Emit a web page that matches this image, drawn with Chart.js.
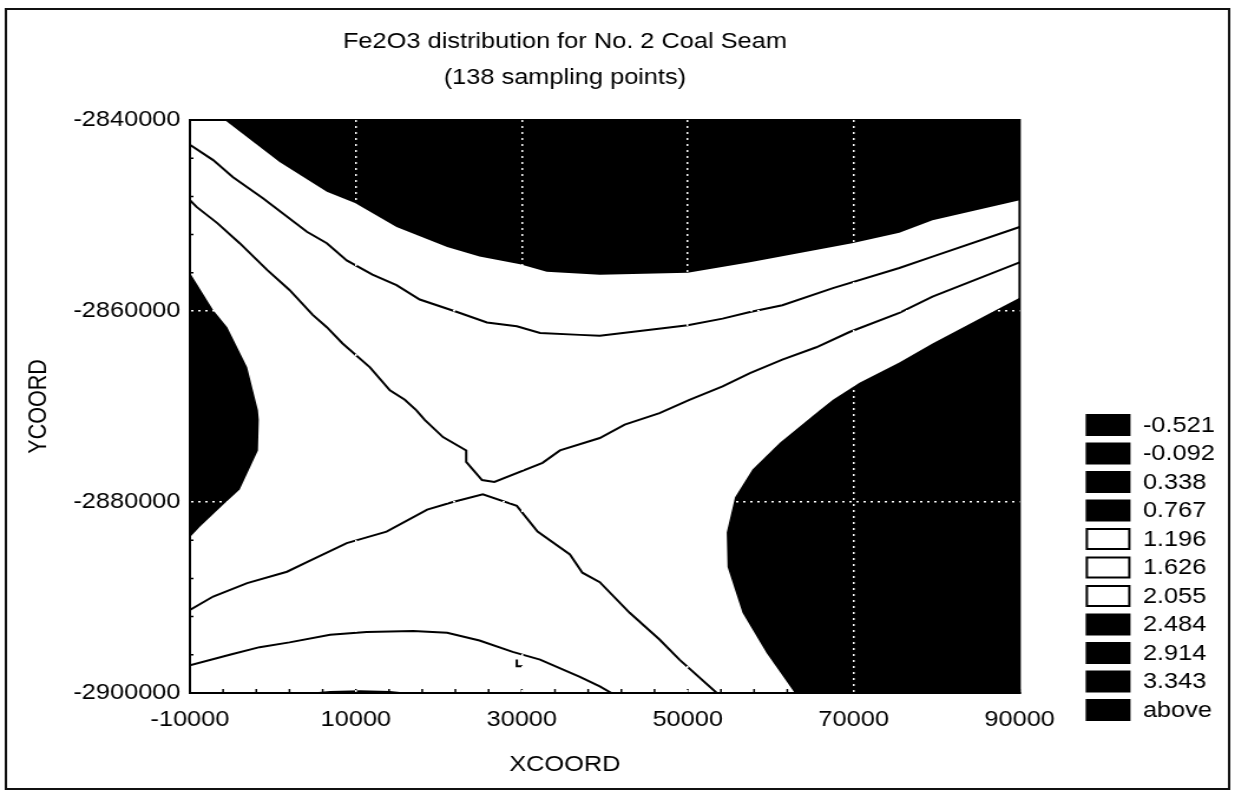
<!DOCTYPE html>
<html>
<head>
<meta charset="utf-8">
<title>Fe2O3 distribution for No. 2 Coal Seam</title>
<script src="https://cdn.jsdelivr.net/npm/chart.js@4.4.1/dist/chart.umd.min.js"></script>
<style>
  html, body { margin: 0; padding: 0; background: #fff; overflow: hidden; }
  #contourChart { display: block; }
</style>
</head>
<body>
<!-- the sheet is drawn 1047 wide and stretched sideways to 1235 -->
<canvas id="contourChart" width="1047" height="795" style="width:1235px;height:795px"></canvas>
<script>
// Axis ranges and labelled ticks
const xRange = [-10000, 90000];
const yRange = [-2900000, -2840000];
const xTickValues = [-10000, 10000, 30000, 50000, 70000, 90000];
const yTickValues = [-2900000, -2880000, -2860000, -2840000];

const titleLines = ["Fe2O3 distribution for No. 2 Coal Seam", "(138 sampling points)"];

// Contour levels shown in the key (white = the three middle classes)
const levelLabels = ["-0.521", "-0.092", "0.338", "0.767", "1.196", "1.626", "2.055", "2.484", "2.914", "3.343", "above"];
const levelFills = ["#000", "#000", "#000", "#000", "#fff", "#fff", "#fff", "#000", "#000", "#000", "#000"];

// Northern dark band, edge of the band (filled up to the top)
const northBandX = [-5800, 800, 6500, 9900, 14900, 21000, 24900, 29800, 33000, 39400, 50000, 57500, 69800, 75500, 79500, 90000];
const northBandY = [-2840000, -2844400, -2847500, -2848700, -2851200, -2853300, -2854300, -2855100, -2855900, -2856200, -2856000, -2854900, -2852900, -2851800, -2850500, -2848400];

// Eastern dark lobe, closed outline
const eastLobeX = [90000, 86700, 79500, 75500, 70700, 67500, 65900, 61100, 57800, 55700, 54700, 54800, 56600, 59500, 62900, 90000];
const eastLobeY = [-2858600, -2860100, -2863400, -2865400, -2867500, -2869300, -2870400, -2873800, -2876600, -2879500, -2883200, -2886800, -2891600, -2895800, -2900000, -2900000];

// Western dark lobe, closed outline
const westLobeX = [-10000, -7200, -5500, -3100, -1800, -1700, -1800, -4000, -6000, -8800, -10000];
const westLobeY = [-2856000, -2859900, -2861700, -2865900, -2870400, -2871400, -2874600, -2878700, -2880300, -2882600, -2883700];

// Thin dark sliver on the southern edge (filled down to the bottom)
const southSliverX = [4100, 6900, 10500, 14100, 16500];
const southSliverY = [-2900000, -2899800, -2899700, -2899800, -2900000];

// Contour lines between the light classes
const contourAX = [-10000, -7200, -4800, -1200, 4100, 6500, 8900, 12000, 14900, 17700, 22200, 25800, 29400, 32200, 37000, 39400, 47000, 50000, 54200, 57500, 61400, 67500, 75500, 79500, 90000];
const contourAY = [-2842600, -2844200, -2846000, -2848200, -2851700, -2852900, -2854700, -2856200, -2857300, -2858800, -2860100, -2861200, -2861600, -2862300, -2862500, -2862600, -2861800, -2861500, -2860800, -2860100, -2859400, -2857600, -2855500, -2854300, -2851200];

const contourBX = [-10000, -9200, -6700, -4000, -700, 2000, 4800, 6500, 8400, 11700, 14100, 15900, 17300, 18300, 20500, 23300, 23300, 25200, 26700, 32500, 34600, 39400, 42400, 46600, 50200, 54200, 57500, 61400, 65500, 69500, 75500, 79500, 90000];
const contourBY = [-2848400, -2849100, -2850800, -2852900, -2855700, -2857800, -2860400, -2861700, -2863400, -2865900, -2868300, -2869300, -2870400, -2871400, -2873200, -2874600, -2875800, -2877700, -2877900, -2875900, -2874600, -2873300, -2871900, -2870700, -2869300, -2867900, -2866500, -2865100, -2863800, -2862200, -2860200, -2858500, -2854900];

const contourCX = [-10000, -7200, -3100, 1700, 4100, 8900, 11300, 13700, 18600, 21700, 25300, 29400, 31900, 35800, 37300, 39400, 43000, 46600, 49000, 53500];
const contourCY = [-2891300, -2889900, -2888500, -2887300, -2886300, -2884300, -2883700, -2883100, -2880800, -2880000, -2879200, -2880400, -2883100, -2885500, -2887400, -2888400, -2891600, -2894400, -2896500, -2900000];

const contourDX = [-10000, -5200, -1600, 2000, 6900, 11300, 16900, 21000, 24900, 28900, 32200, 37000, 39400, 40800];
const contourDY = [-2897100, -2896000, -2895200, -2894700, -2893900, -2893600, -2893500, -2893700, -2894500, -2895700, -2896500, -2898300, -2899300, -2900000];

// Small corner mark south of the saddle
const markX = [29400, 29400, 30100];
const markY = [-2896500, -2897200, -2897200];

const textFont = { family: "'Liberation Sans', Arial, Helvetica, sans-serif", size: 21.5, weight: "normal" };

const pts = (xs, ys) => xs.map((x, i) => ({ x, y: ys[i] }));

// black filled area, no outline
const darkArea = (xs, ys, fill) => ({
  data: pts(xs, ys),
  fill,
  backgroundColor: "#000",
  borderColor: "rgba(0,0,0,0)",
  borderWidth: 1,
  pointRadius: 0,
  tension: 0,
  order: 2,
});

// thin black contour line
const contourLine = (xs, ys) => ({
  data: pts(xs, ys),
  fill: false,
  borderColor: "#000",
  borderWidth: 2,
  pointRadius: 0,
  tension: 0,
  order: 1,
});

// white dotted grid only on the inner ticks
const gridColour = (ctx) => {
  const v = ctx.tick ? ctx.tick.value : null;
  return v !== null && v > ctx.scale.min && v < ctx.scale.max ? "#fff" : "rgba(0,0,0,0)";
};

// sheet frame, plot frame, minor ticks, heading, key and x caption
const sheetDecor = {
  id: "sheetDecor",
  beforeDraw(chart) {
    const { ctx, width, height } = chart;
    ctx.save();
    ctx.fillStyle = "#fff";
    ctx.fillRect(0, 0, width, height);
    ctx.strokeStyle = "#111";
    ctx.lineWidth = 2;
    ctx.strokeRect(5, 9, width - 10, height - 15);
    ctx.restore();
  },
  afterDatasetsDraw(chart) {
    const { ctx, chartArea: a, scales } = chart;
    ctx.save();
    ctx.strokeStyle = "#000";
    ctx.lineWidth = 2;
    ctx.strokeRect(a.left, a.top, a.right - a.left, a.bottom - a.top);

    // five small inward ticks per labelled step
    ctx.lineWidth = 1.5;
    ctx.beginPath();
    for (let v = xRange[0]; v <= xRange[1]; v += 4000) {
      const px = scales.x.getPixelForValue(v);
      ctx.moveTo(px, a.bottom);
      ctx.lineTo(px, a.bottom - 4);
    }
    for (let v = yRange[0]; v <= yRange[1]; v += 4000) {
      const py = scales.y.getPixelForValue(v);
      ctx.moveTo(a.left, py);
      ctx.lineTo(a.left + 3, py);
    }
    ctx.stroke();
    ctx.restore();
  },
  afterDraw(chart) {
    const { ctx, chartArea: a } = chart;
    const midX = a.left + (a.right - a.left) * 0.452;
    ctx.save();
    ctx.font = `${textFont.size}px ${textFont.family}`;
    ctx.fillStyle = "#000";
    ctx.textBaseline = "middle";

    // heading, two lines
    ctx.textAlign = "center";
    titleLines.forEach((line, i) => ctx.fillText(line, midX, 42 + i * 36));

    // x axis caption
    ctx.fillText("XCOORD", midX, a.bottom + 72);

    // key
    const keyX = a.right + 56;
    const keyTop = 414;
    const rowStep = 28.5;
    const boxW = 38;
    const boxH = 22;
    levelLabels.forEach((label, i) => {
      const y = keyTop + i * rowStep;
      ctx.fillStyle = levelFills[i];
      ctx.fillRect(keyX, y, boxW, boxH);
      if (levelFills[i] === "#fff") {
        ctx.strokeStyle = "#000";
        ctx.lineWidth = 2;
        ctx.strokeRect(keyX + 1, y + 1, boxW - 2, boxH - 2);
      }
      ctx.fillStyle = "#000";
      ctx.textAlign = "left";
      ctx.fillText(label, keyX + 48.5, y + boxH / 2 + 1);
    });
    ctx.restore();
  },
};

new Chart(document.getElementById("contourChart"), {
  type: "line",
  data: {
    datasets: [
      contourLine(contourAX, contourAY),
      contourLine(contourBX, contourBY),
      contourLine(contourCX, contourCY),
      contourLine(contourDX, contourDY),
      contourLine(markX, markY),
      darkArea(northBandX, northBandY, "end"),
      darkArea(eastLobeX, eastLobeY, "shape"),
      darkArea(westLobeX, westLobeY, "shape"),
      darkArea(southSliverX, southSliverY, "start"),
    ],
  },
  options: {
    responsive: false,
    animation: false,
    events: [],
    layout: { padding: { left: 0, right: 182.6, top: 120, bottom: 0 } },
    plugins: {
      legend: { display: false },
      tooltip: { enabled: false },
      title: { display: false },
    },
    scales: {
      x: {
        type: "linear",
        min: xRange[0],
        max: xRange[1],
        afterFit: (axis) => { axis.height = 102; },
        afterBuildTicks: (axis) => { axis.ticks = xTickValues.map((v) => ({ value: v })); },
        ticks: { color: "#000", font: textFont, padding: 14, maxRotation: 0, autoSkip: false, callback: (v) => String(v) },
        grid: { color: gridColour, lineWidth: 1.5, drawTicks: false, z: 1 },
        border: { display: true, color: "#000", width: 2, dash: [2, 4], z: 1 },
      },
      y: {
        type: "linear",
        min: yRange[0],
        max: yRange[1],
        afterFit: (axis) => { axis.width = 161; },
        afterBuildTicks: (axis) => { axis.ticks = yTickValues.map((v) => ({ value: v })); },
        ticks: { color: "#000", font: textFont, padding: 8, autoSkip: false, callback: (v) => String(v) },
        grid: { color: gridColour, lineWidth: 1.5, drawTicks: false, z: 1 },
        border: { display: true, color: "#000", width: 2, dash: [2, 4], z: 1 },
        title: { display: true, text: "YCOORD", color: "#000", font: textFont, padding: { top: 20, bottom: 0 } },
      },
    },
  },
  plugins: [sheetDecor],
});
</script>
</body>
</html>
